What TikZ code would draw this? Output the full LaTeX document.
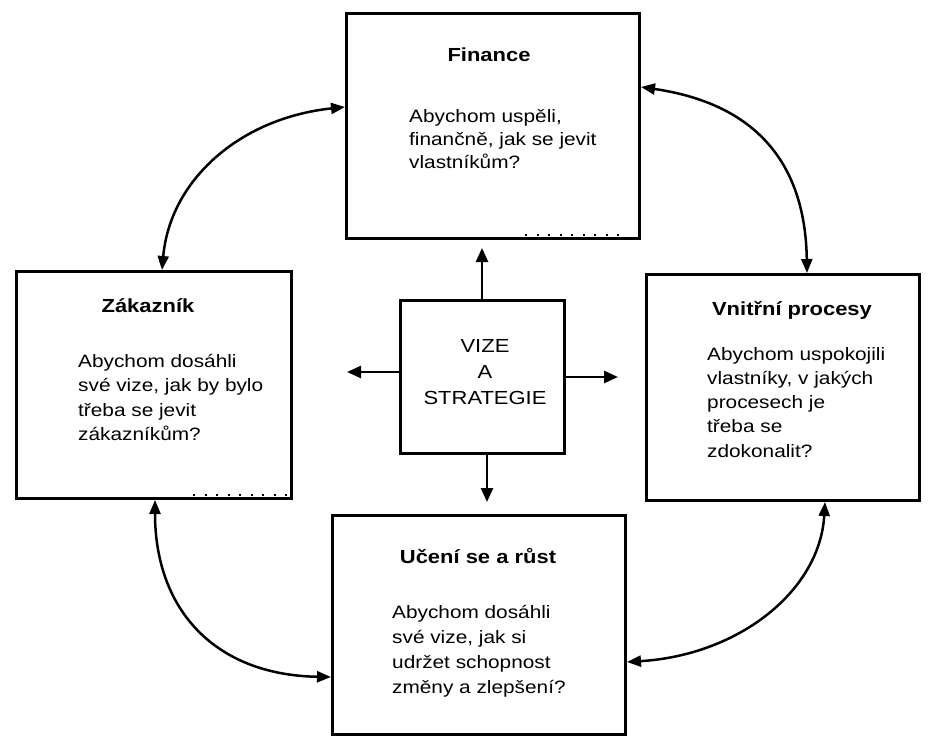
\documentclass[tikz,border=0pt]{standalone}
\usepackage{fontspec}
\setmainfont{Liberation Sans}[FakeStretch=1.16]
\usetikzlibrary{arrows.meta}
\begin{document}
\begin{tikzpicture}[x=1bp,y=-1bp,
  box/.style={draw, line width=3bp, inner sep=0, anchor=north west},
  ttl/.style={font=\fontsize{19}{23}\selectfont\bfseries, anchor=base, inner sep=0},
  body/.style={font=\fontsize{18}{24}\selectfont, align=left, anchor=base west, inner sep=0},
  arr/.style={line width=2.5bp, -{Triangle[length=14bp,width=12bp]}},
  darr/.style={line width=2.5bp, {Triangle[length=14bp,width=11bp]}-{Triangle[length=14bp,width=11bp]}},
  ticks/.style={line width=1.5bp, dash pattern=on 2bp off 9.5bp}]
\useasboundingbox (0,0) rectangle (930,738);
\fill[white] (0,0) rectangle (930,738);

% boxes
\node[box, minimum width=293bp, minimum height=225bp] (fin) at (345,12) {};
\node[box, minimum width=275bp, minimum height=227bp] (zak) at (15,270) {};
\node[box, minimum width=273bp, minimum height=226bp] (vni) at (645,273) {};
\node[box, minimum width=293bp, minimum height=219bp] (uce) at (331,514) {};
\node[box, minimum width=164bp, minimum height=153bp] (ctr) at (399,299) {};

% small tick marks
\draw[ticks] (525,235) -- (620,235);
\draw[ticks] (193,495) -- (288,495);

% texts (multi-line nodes are placed by the baseline of their last line)
\node[ttl] (finT) at (489,62) {Finance};
\node[body, font=\fontsize{18}{23}\selectfont] (finB) at (409,168) {Abychom uspěli,\\finančně, jak se jevit\\vlastníkům?};

\node[ttl] (zakT) at (148,312) {Zákazník};
\node[body, font=\fontsize{18}{24.5}\selectfont] (zakB) at (78,440.5) {Abychom dosáhli\\své vize, jak by bylo\\třeba se jevit\\zákazníkům?};

\node[ttl] (vniT) at (792,315) {Vnitřní procesy};
\node[body, font=\fontsize{18}{24.3}\selectfont] (vniB) at (707,457) {Abychom uspokojili\\vlastníky, v jakých\\procesech je\\třeba se\\zdokonalit?};

\node[ttl] (uceT) at (478,563) {Učení se a růst};
\node[body, font=\fontsize{18}{25}\selectfont] (uceB) at (392,693) {Abychom dosáhli\\své vize, jak si\\udržet schopnost\\změny a zlepšení?};

\node[font=\fontsize{19}{26}\selectfont, align=center, anchor=base, inner sep=0] (ctrT) at (485,404) {VIZE\\A\\STRATEGIE};

% arrows from centre
\coordinate (pUp) at (482,248);
\coordinate (pLeft) at (347,372);
\coordinate (pRight) at (618,377);
\coordinate (pDown) at (487,502);
\draw[arr] (ctr.north -| pUp) -- (pUp);
\draw[arr] (ctr.west |- pLeft) -- (pLeft);
\draw[arr] (ctr.east |- pRight) -- (pRight);
\draw[arr] (ctr.south -| pDown) -- (pDown);

% curved double arrows
\draw[darr] (zak.north -| 162,0) .. controls (170,180) and (240,118) .. (fin.west |- 0,107);
\draw[darr] (fin.east |- 0,87) .. controls (730,100) and (805,140) .. (vni.north -| 807,0);
\draw[darr] (zak.south -| 155,0) .. controls (155,610) and (215,675) .. (uce.west |- 0,677);
\draw[darr] (vni.south -| 825,0) .. controls (820,590) and (740,655) .. (uce.east |- 0,662);
\end{tikzpicture}
\end{document}
